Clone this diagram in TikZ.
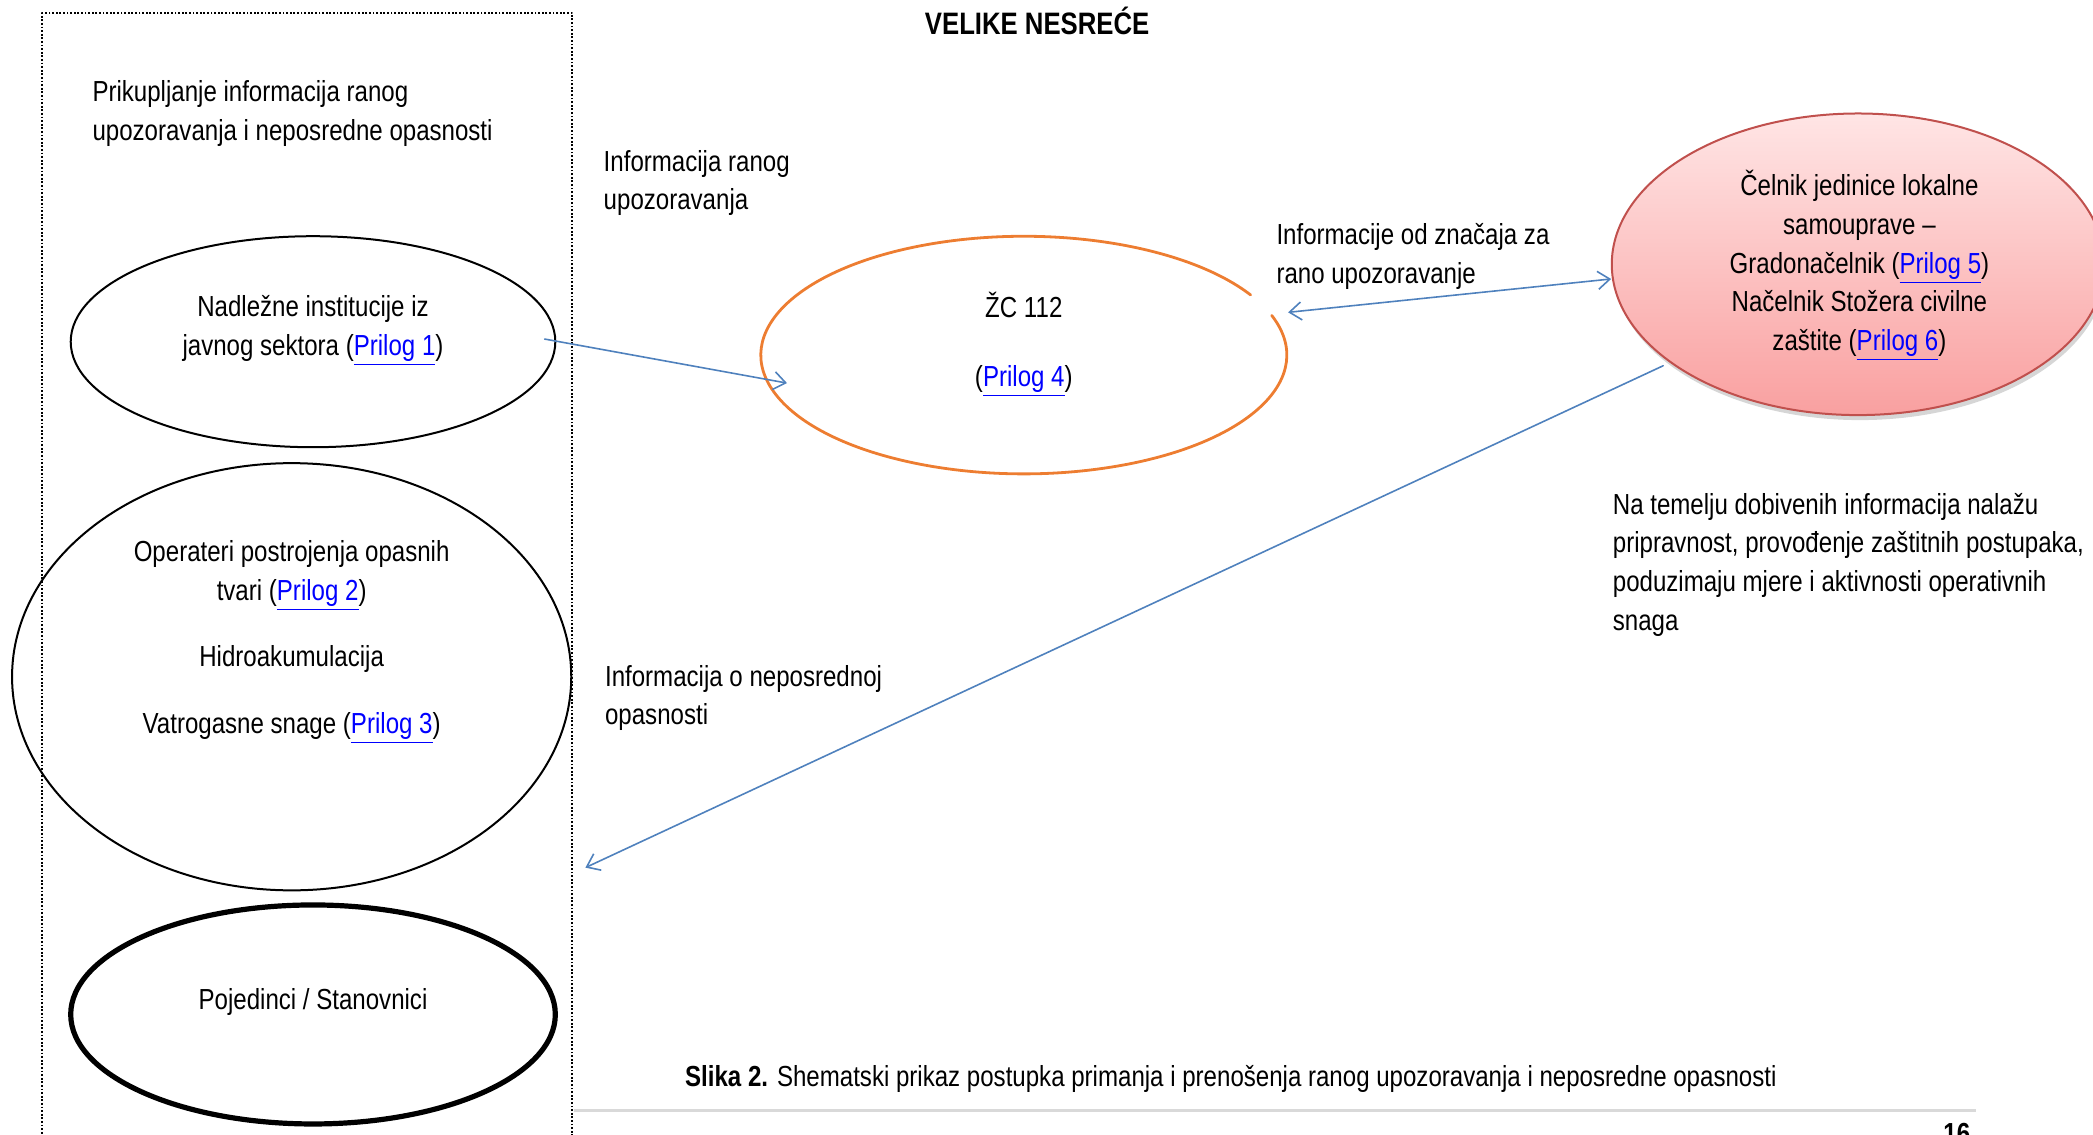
\documentclass[tikz,border=0pt]{standalone}
\usepackage{fontspec}
\setmainfont{Liberation Sans}[FakeStretch=0.83]
\usetikzlibrary{shapes.geometric,arrows.meta,calc,shadows}
\definecolor{flowblue}{RGB}{79,129,189}
\definecolor{zcorange}{RGB}{237,125,49}
\definecolor{celniktop}{RGB}{255,229,229}
\definecolor{celnikbot}{RGB}{249,160,160}
\definecolor{celnikline}{RGB}{192,80,77}
\definecolor{linkblue}{RGB}{0,0,255}
\newcommand{\prilog}[1]{\textcolor{linkblue}{\underline{Prilog #1}}}
\tikzset{pfeil/.tip={Straight Barb[length=6pt,width=9pt]}}

\begin{document}
\begin{tikzpicture}[x=0.66741pt, y=-0.66741pt, line join=round, line cap=round,
    every node/.style={font=\fontsize{14.5}{19.35}\selectfont, inner sep=0pt},
    tekst/.style={anchor=west, align=left},
    krug/.style={ellipse, draw, line width=1pt},
    flow/.style={draw=flowblue, line width=0.8pt, -pfeil}]
  \useasboundingbox (0,0) rectangle (1568,850);
  \clip (0,0) rectangle (1568,850);

  \node[draw, line cap=butt, dash pattern=on 0.9pt off 0.9pt, line width=1pt,
        anchor=north west, minimum width=265pt, minimum height=581pt] (izvori) at (31,9) {};

  \node[font=\fontsize{15.5}{18}\selectfont\bfseries] (naslov) at (777,15.5) {VELIKE NESREĆE};

  \node[tekst] (prikupljanje) at (69,85) {Prikupljanje informacija ranog\\upozoravanja i neposredne opasnosti};
  \node[tekst] (rano-info) at (452,137) {Informacija ranog\\upozoravanja};
  \node[tekst] (znacaj-info) at (956,192) {Informacije od značaja za\\rano upozoravanje};
  \node[tekst] (mjere) at (1208,423) {Na temelju dobivenih informacija nalažu\\pripravnost, provođenje zaštitnih postupaka,\\poduzimaju mjere i aktivnosti operativnih\\snaga};
  \node[tekst] (opasnost-info) at (453,523) {Informacija o neposrednoj\\opasnosti};

  \node[krug, minimum width=242.3pt, minimum height=105.5pt] (nadlezne) at (234.5,256) {};
  \node[align=center] (nadlezne-txt) at (234.5,247.5) {Nadležne institucije iz\\javnog sektora (\prilog{1})};

  \node[krug, minimum width=279.6pt, minimum height=213.6pt] (operateri) at (218.5,507) {};
  \node[align=center] (operateri-txt) at (218.5,481) {Operateri postrojenja opasnih\\tvari (\prilog{2})\\[14pt]Hidroakumulacija\\[14pt]Vatrogasne snage (\prilog{3})};

  \node[krug, line width=2.6pt, minimum width=242.3pt, minimum height=109.5pt] (pojedinci) at (234.5,760) {};
  \node (pojedinci-txt) at (234.5,750.5) {Pojedinci / Stanovnici};

  \node[ellipse, minimum width=263pt, minimum height=118.8pt] (zc) at (767,266) {};
  \draw[draw=zcorange, line width=1.4pt] (zc.center) ++(-19.5:197 and 89)
    arc[start angle=-19.5, end angle=329.6, x radius=197, y radius=89];
  \node[align=center] (zc-txt) at (767,258) {ŽC 112\\[14.7pt](\prilog{4})};

  \node[ellipse, draw=celnikline, line width=1pt, top color=celniktop, bottom color=celnikbot,
        drop shadow={shadow xshift=1pt, shadow yshift=-2.5pt, fill=black, opacity=0.16},
        minimum width=246.3pt, minimum height=150.8pt] (celnik) at (1392,198) {};
  \node[align=center] (celnik-txt) at (1393,199) {Čelnik jedinice lokalne\\samouprave --\\Gradonačelnik (\prilog{5})\\Načelnik Stožera civilne\\zaštite (\prilog{6})};

  \draw[flow] ($(nadlezne.center)+(173.5,-2)$) -- ($(zc.center)+(-177.4,21)$);
  \draw[flow, pfeil-pfeil] ($(zc.center)+(198,-32)$) -- ($(celnik.center)+(-185,11)$);
  \draw[flow] ($(celnik.center)+(-146,76)$) -- ($(izvori.north east)+(9,641)$);

  \node[anchor=west] (slika) at (513,808) {\textbf{Slika 2.} Shematski prikaz postupka primanja i prenošenja ranog upozoravanja i neposredne opasnosti};
  \draw[draw=black!15, line width=1.3pt, line cap=butt] (430,832) -- (1480,832);
  \node[anchor=base, font=\fontsize{14.5}{18}\selectfont\bfseries] (stranica) at (1466,857) {16};
\end{tikzpicture}
\end{document}
